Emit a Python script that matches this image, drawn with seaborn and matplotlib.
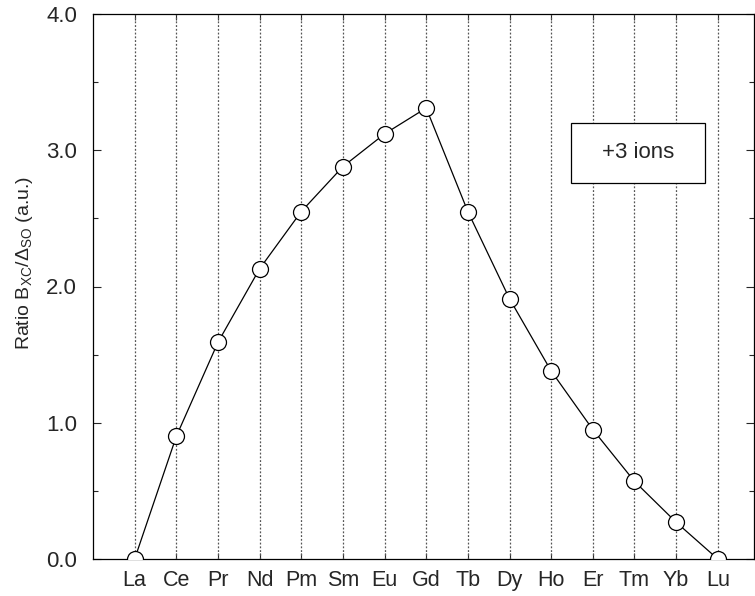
import matplotlib
matplotlib.use("Agg")
import matplotlib.pyplot as plt
import seaborn as sns
import numpy as np
import pandas as pd
from matplotlib.patches import Rectangle
from matplotlib.ticker import MultipleLocator

elements = ["La", "Ce", "Pr", "Nd", "Pm", "Sm", "Eu", "Gd", "Tb", "Dy", "Ho", "Er", "Tm", "Yb", "Lu"]
ratio = [0.0, 0.90, 1.59, 2.13, 2.55, 2.88, 3.12, 3.31, 2.55, 1.91, 1.38, 0.95, 0.57, 0.27, 0.0]
y_ticks = [0.0, 1.0, 2.0, 3.0, 4.0]
y_tick_labels = ["0.0", "1.0", "2.0", "3.0", "4.0"]

sns.set_theme(style="white")
plt.rcParams['font.family'] = ['Liberation Sans', 'DejaVu Sans']
plt.rcParams['mathtext.fontset'] = 'custom'
plt.rcParams['mathtext.rm'] = 'Liberation Sans'
plt.rcParams['mathtext.it'] = 'Liberation Sans:italic'
plt.rcParams['mathtext.default'] = 'regular'

df = pd.DataFrame({"idx": np.arange(len(elements)), "ratio": ratio})

fig = plt.figure(figsize=(7.55, 5.96), dpi=100)
ax = fig.add_axes([93/755, 1-559/596, (754-93)/755, (559-14)/596])

for i in range(len(elements)):
    ax.axvline(i, color="#555555", linestyle=(0, (1.5, 1.5)), linewidth=0.9, zorder=1)

sns.lineplot(data=df, x="idx", y="ratio", ax=ax, color="black", linewidth=0.9,
             marker="o", markersize=11.5, markerfacecolor="white",
             markeredgecolor="black", markeredgewidth=0.9, zorder=3)

ax.set_xlim(-1, 14.87)
ax.set_ylim(0, 4.0)
ax.set_xticks(np.arange(len(elements)))
ax.set_xticklabels(elements, fontsize=15.5)
ax.set_yticks(y_ticks)
ax.set_yticklabels(y_tick_labels, fontsize=16)
ax.yaxis.set_minor_locator(MultipleLocator(0.5))
ax.tick_params(axis='y', which='major', direction='in', length=6, width=0.8,
               left=True, right=True, pad=11.5)
ax.tick_params(axis='y', which='minor', direction='in', length=3.5, width=0.8,
               left=True, right=True)
ax.tick_params(axis='x', which='major', direction='in', length=4, width=0.8,
               bottom=True, top=True, pad=8)
ax.set_xlabel("")
ax.set_ylabel(r"Ratio B$_{XC}$/$\Delta_{SO}$ (a.u.)", fontsize=14)
ax.yaxis.set_label_coords(-0.087, 0.543)
for s in ax.spines.values():
    s.set_color("black")
    s.set_linewidth(0.9)

x0 = (571-93)/661
x1 = (705-93)/661
y0 = (559-183)/545
y1 = (559-123)/545
ax.add_patch(Rectangle((x0, y0), x1-x0, y1-y0, transform=ax.transAxes,
                       facecolor="white", edgecolor="black", linewidth=0.9, zorder=4))
ax.text((x0+x1)/2, (y0+y1)/2, "+3 ions", transform=ax.transAxes,
        ha="center", va="center", fontsize=16, zorder=5)

fig.savefig("out.png", dpi=100)
